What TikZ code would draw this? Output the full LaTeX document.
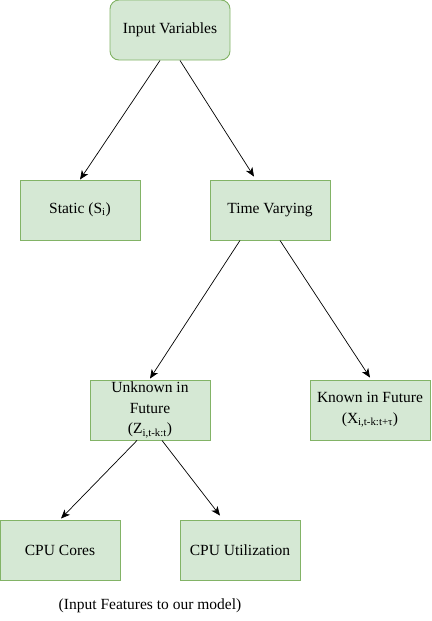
\documentclass[tikz,border=0pt]{standalone}
\usepackage{fontspec}
\setmainfont{Liberation Serif}
\usepackage{tikz}
\usetikzlibrary{arrows.meta}
\usetikzlibrary{calc}
\definecolor{boxfill}{HTML}{D5E8D4}
\definecolor{boxline}{HTML}{82B366}

\begin{document}
\begin{tikzpicture}[x=1pt,y=-1pt,
  box/.style={draw=boxline,fill=boxfill,line width=0.9pt,minimum width=120pt,minimum height=60pt,inner sep=0pt,align=center,font=\fontsize{15.5}{20.5}\selectfont},
  arr/.style={-{Stealth[length=9pt,width=7.5pt,inset=2.5pt]},line width=0.7pt,black}]
\useasboundingbox (0,0) rectangle (431,621);
\node[box,rounded corners=9pt] (inp) at (170,30) {Input Variables};
\node[box] (stat) at (80,210) {Static (S\textsubscript{i})};
\node[box] (tv) at (270,210) {Time Varying};
\node[box] (unk) at (150,410) {Unknown in\\Future\\(Z\textsubscript{i,t-k:t})};
\node[box] (kn) at (370,410) {Known in Future\\(X\textsubscript{i,t-k:t+τ})};
\node[box] (cores) at (60,550) {CPU Cores};
\node[box] (util) at (240,550) {CPU Utilization};
\node[font=\fontsize{15.5}{18}\selectfont] (cap) at (150,606) {(Input Features to our model)};

\draw[arr] ($(inp.south) + (-10,0)$) -- (stat.north);
\draw[arr] ($(inp.south) + (10,0)$) -- ($(tv.north) + (-16,-3)$);
\draw[arr] ($(tv.south) + (-30,0)$) -- ($(unk.north) + (0,-1)$);
\draw[arr] ($(tv.south) + (10,0)$) -- ($(kn.north) + (0,-2)$);
\draw[arr] ($(unk.south) + (-13,0)$) -- ($(cores.north) + (1,-1)$);
\draw[arr] ($(unk.south) + (12,0)$) -- ($(util.north) + (-20,-4)$);
\end{tikzpicture}
\end{document}
